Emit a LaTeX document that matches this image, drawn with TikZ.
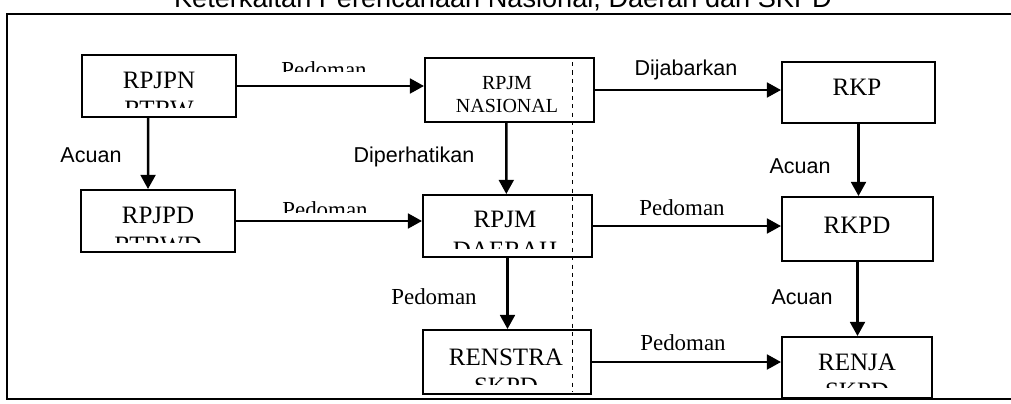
\documentclass[tikz,border=0pt]{standalone}
\usepackage{fontspec}
\setmainfont{Liberation Serif}
\newfontfamily\arialf{Liberation Sans}
\usetikzlibrary{arrows.meta}
\begin{document}
\begin{tikzpicture}[x=0.025cm,y=-0.025cm,
  box/.style={draw,line width=1.4pt,inner sep=0pt},
  btxt/.style={anchor=base,inner sep=0pt,font=\fontsize{17.8}{20}\selectfont},
  stxt/.style={anchor=base,inner sep=0pt,font=\fontsize{14.2}{16}\selectfont},
  plab/.style={anchor=base,inner sep=0pt,font=\fontsize{16.3}{18}\selectfont},
  slab/.style={anchor=base,inner sep=0pt,font=\arialf\fontsize{15.3}{17}\selectfont},
  conn/.style={line width=1.8pt,-{Triangle[length=10pt,width=10.5pt]}}]
\useasboundingbox (0,0) rectangle (1011,403);
\clip (0,0) rectangle (1011,403);
% title and frame
\node[anchor=base,inner sep=0pt,font=\arialf\fontsize{19.3}{21}\selectfont] (title) at (503,7) {Keterkaitan Perencanaan Nasional, Daerah dan SKPD};
\draw[line width=1.2pt] (1030,14) -- (7,14) -- (7,399) -- (1030,399);
% dashed guide line
\draw[line width=0.6pt,dash pattern=on 3pt off 3pt] (572,62) -- (572,392);
% boxes
\node[box,minimum width=3.85cm,minimum height=1.55cm] (rpjpn) at (159,86) {};
\node[box,minimum width=3.85cm,minimum height=1.55cm] (rpjpd) at (158,221) {};
\node[box,minimum width=4.225cm,minimum height=1.6cm] (rpjmn) at (509.5,90) {};
\node[box,minimum width=4.225cm,minimum height=1.55cm] (rpjmd) at (507.5,226) {};
\node[box,minimum width=4.2cm,minimum height=1.6cm] (renstra) at (507,362) {};
\node[box,minimum width=3.825cm,minimum height=1.525cm] (rkp) at (858.5,92.5) {};
\node[box,minimum width=3.775cm,minimum height=1.6cm] (rkpd) at (857.5,229) {};
\node[box,minimum width=3.75cm,minimum height=1.525cm] (renja) at (857,367.5) {};
% box texts
\node[btxt] (rpjpn-a) at (159,88) {RPJPN};
\begin{scope}\clip (rpjpn.north west) rectangle (rpjpn.east |- 0,107);
\node[btxt] (rpjpn-b) at (159,117) {RTRW};\end{scope}
\node[btxt] (rpjpd-a) at (158,223) {RPJPD};
\begin{scope}\clip (rpjpd.north west) rectangle (rpjpd.east |- 0,242);
\node[btxt] (rpjpd-b) at (158,253) {RTRWD};\end{scope}
\node[stxt] (rpjmn-a) at (507,89) {RPJM};
\node[stxt] (rpjmn-b) at (507,112) {NASIONAL};
\node[btxt] (rpjmd-a) at (505,227) {RPJM};
\begin{scope}\clip (rpjmd.north west) rectangle (rpjmd.east |- 0,248);
\node[btxt] (rpjmd-b) at (505,258) {DAERAH};\end{scope}
\node[btxt] (renstra-a) at (506,365) {RENSTRA};
\begin{scope}\clip (renstra.north west) rectangle (renstra.east |- 0,384);
\node[btxt] (renstra-b) at (506,394) {SKPD};\end{scope}
\node[btxt] (rkp-a) at (857,95) {RKP};
\node[btxt] (rkpd-a) at (857,233) {RKPD};
\node[btxt] (renja-a) at (857,370) {RENJA};
\begin{scope}\clip (renja.north west) rectangle (renja.east |- 0,387);
\node[btxt] (renja-b) at (857,399) {SKPD};\end{scope}
% connectors
\draw[conn] (rpjpn.east) -- (rpjmn.west |- rpjpn.east);
\draw[conn] (rpjmn.east) -- (rkp.west |- rpjmn.east);
\draw[conn] (rpjpd.east) -- (rpjmd.west |- rpjpd.east);
\draw[conn] (rpjmd.east) -- (rkpd.west |- rpjmd.east);
\draw[conn] (renstra.east) -- (renja.west |- renstra.east);
\draw[conn] ([xshift=-0.27cm]rpjpn.south) -- ([xshift=-0.25cm]rpjpd.north);
\draw[conn] ([xshift=-0.08cm]rpjmn.south) -- ([xshift=-0.03cm]rpjmd.north);
\draw[conn] (rpjmd.south) -- (rpjmd.south |- renstra.north);
\draw[conn] (rkp.south) -- (rkp.south |- rkpd.north);
\draw[conn] (rkpd.south) -- (rkpd.south |- renja.north);
% labels
\begin{scope}\clip (250,40) rectangle (400,71);
\node[plab] (l1) at (324,77) {Pedoman};\end{scope}
\begin{scope}\clip (250,180) rectangle (400,212);
\node[plab] (l2) at (325,217) {Pedoman};\end{scope}
\node[slab] (l3) at (686,75) {Dijabarkan};
\node[slab] (l4) at (91,162) {Acuan};
\node[slab] (l5) at (414,162) {Diperhatikan};
\node[slab] (l6) at (800,173) {Acuan};
\node[plab] (l7) at (682,215) {Pedoman};
\node[plab] (l8) at (434,304) {Pedoman};
\node[slab] (l9) at (802,304) {Acuan};
\node[plab] (l10) at (683,350) {Pedoman};
\end{tikzpicture}
\end{document}
